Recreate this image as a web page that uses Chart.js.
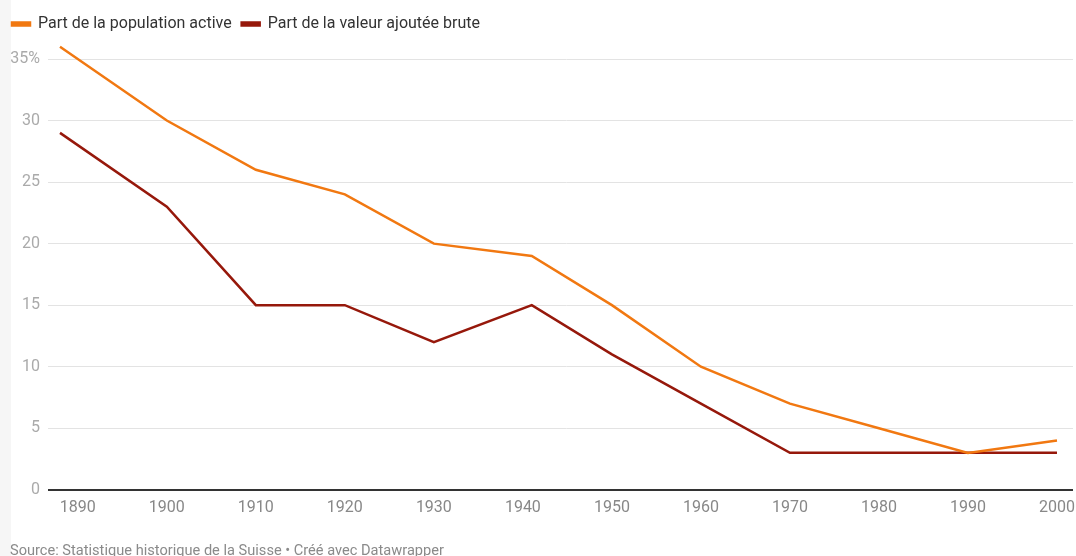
<!DOCTYPE html>
<html>
<head>
<meta charset="utf-8">
<script src="https://cdn.jsdelivr.net/npm/chart.js@4/dist/chart.umd.min.js"></script>
<style>
  html, body { margin: 0; padding: 0; }
  body {
    width: 1076px; height: 556px; overflow: hidden; position: relative;
    background: linear-gradient(to right, #f6f6f6 0, #f6f6f6 11px, #ffffff 11px);
    font-family: Roboto, "Noto Sans", sans-serif;
  }
  #wrap { position: absolute; left: 0; top: 0; width: 1076px; height: 556px; }
  #source {
    position: absolute; left: 10px; top: 541px; font-size: 14.6px; color: #8a8a8a;
    white-space: nowrap; font-family: Roboto, sans-serif;
  }
</style>
</head>
<body>
<div id="wrap"><canvas id="c" width="1076" height="556"></canvas></div>
<div id="source">Source: Statistique historique de la Suisse • Créé avec Datawrapper</div>
<script>
// ---- data ----
const years = [1888, 1900, 1910, 1920, 1930, 1941, 1950, 1960, 1970, 1980, 1990, 2000];
const populationActive = [36, 30, 26, 24, 20, 19, 15, 10, 7, 5, 3, 4];
const valeurAjoutee = [29, 23, 15, 15, 12, 15, 11, 7, 3, 3, 3, 3];
const seriesNames = ['Part de la population active', 'Part de la valeur ajoutée brute'];
const xTickValues = [1890, 1900, 1910, 1920, 1930, 1940, 1950, 1960, 1970, 1980, 1990, 2000];
const yTickValues = [0, 5, 10, 15, 20, 25, 30, 35];
const yTickLabels = ['0', '5', '10', '15', '20', '25', '30', '35%'];

const toPoints = vals => years.map((y, i) => ({ x: y, y: vals[i] }));

const legendSpacing = {
  id: 'legendSpacing',
  beforeInit(chart) {
    const origFit = chart.legend.fit;
    chart.legend.fit = function () {
      origFit.call(this);
      this.height += 17;
    };
  }
};

new Chart(document.getElementById('c'), {
  type: 'line',
  data: {
    datasets: [
      {
        label: seriesNames[0],
        data: toPoints(populationActive),
        borderColor: '#f17811',
        backgroundColor: '#f17811',
        borderWidth: 2.5,
        pointRadius: 0,
        tension: 0,
        clip: false
      },
      {
        label: seriesNames[1],
        data: toPoints(valeurAjoutee),
        borderColor: '#96180b',
        backgroundColor: '#96180b',
        borderWidth: 2.5,
        pointRadius: 0,
        tension: 0,
        clip: false
      }
    ]
  },
  plugins: [legendSpacing],
  options: {
    responsive: false,
    animation: false,
    layout: { padding: { left: 2, right: 3, top: 6, bottom: 29 } },
    plugins: {
      legend: {
        display: true,
        position: 'top',
        align: 'start',
        labels: {
          boxWidth: 18,
          boxHeight: 3,
          padding: 10,
          color: '#333333',
          font: { family: 'Roboto', size: 16 }
        }
      },
      tooltip: { enabled: false }
    },
    scales: {
      x: {
        type: 'linear',
        min: 1888,
        max: 2001.8,
        afterBuildTicks: s => { s.ticks = xTickValues.map(v => ({ value: v })); },
        afterFit: s => { s.paddingLeft = 0; s.paddingRight = 0; },
        grid: { display: false, drawTicks: false },
        border: { display: false },
        ticks: {
          padding: 9,
          color: '#888888',
          maxRotation: 0,
          autoSkip: false,
          font: { family: 'Roboto', size: 16 },
          callback: v => String(v)
        }
      },
      y: {
        min: 0,
        max: 35,
        afterBuildTicks: s => { s.ticks = yTickValues.map(v => ({ value: v })); },
        afterFit: s => { s.width = 58; },
        grid: {
          drawTicks: true,
          tickLength: 12,
          color: c => (c.tick && c.tick.value === 0) ? '#333333' : '#e3e3e3',
          lineWidth: c => (c.tick && c.tick.value === 0) ? 2 : 1
        },
        border: { display: false },
        ticks: {
          padding: 8,
          color: '#aaaaaa',
          font: { family: 'Roboto', size: 16 },
          callback: v => yTickLabels[yTickValues.indexOf(v)]
        }
      }
    }
  }
});
</script>
</body>
</html>
